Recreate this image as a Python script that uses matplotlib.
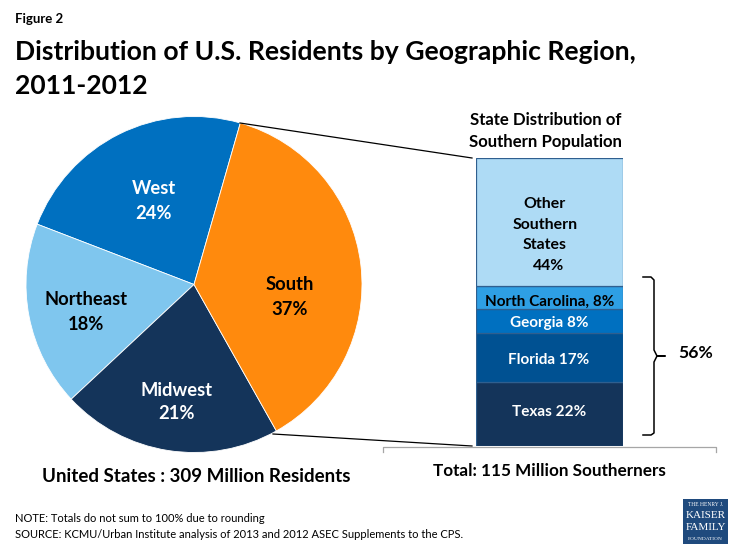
import matplotlib
matplotlib.use("Agg")
import matplotlib.pyplot as plt
from matplotlib.patches import Rectangle

plt.rcParams['font.family'] = ['Lato', 'DejaVu Sans']

# Data
regions = ["West", "Northeast", "Midwest", "South"]
region_values = [23.6, 17.8, 21.2, 37.4]
region_colors = ["#0070C0", "#7FC6EE", "#14345A", "#FF8A0D"]
region_label_colors = ["white", "black", "white", "black"]

states = ["Texas", "Florida", "Georgia", "North Carolina", "Other Southern States"]
state_values = [22, 17, 8, 8, 44]
state_colors = ["#14345A", "#005192", "#0070C0", "#2E9FE4", "#AEDBF5"]

W, H = 735, 551
fig = plt.figure(figsize=(W / 100, H / 100), dpi=100)
fig.patch.set_facecolor("white")


def box(l, t, r, b):
    return [l / W, 1 - b / H, (r - l) / W, (b - t) / H]


# Overlay in pixel coordinates (for text and annotation)
ov = fig.add_axes([0, 0, 1, 1], zorder=5)
ov.set_xlim(0, W)
ov.set_ylim(H, 0)
ov.axis("off")
ov.patch.set_alpha(0)

# Pie
axp = fig.add_axes(box(26, 116.5, 362, 452.5), zorder=2)
axp.pie(region_values, colors=region_colors, startangle=74, counterclock=True,
        radius=1, wedgeprops=dict(edgecolor="white", linewidth=0.6))
axp.set_xlim(-1, 1)
axp.set_ylim(-1, 1)

region_pos = [(154, 201), (86, 312), (177, 402), (290, 297)]
for name, val, (x, y), c in zip(regions, region_values, region_pos, region_label_colors):
    gap = 25 if name != "Midwest" else 23
    ov.text(x, y - gap / 2, name, ha="center", va="center", fontsize=13.2, fontweight="bold", color=c)
    ov.text(x, y + gap / 2, f"{val:.0f}%", ha="center", va="center", fontsize=13.2, fontweight="bold", color=c)

# Stacked bar
axb = fig.add_axes(box(476, 158, 623, 446), zorder=2)
bottom = 0
for name, val, col in zip(states, state_values, state_colors):
    axb.bar(0, val, bottom=bottom, width=1, color=col, edgecolor="#2F5F8F", linewidth=0.9)
    bottom += val
axb.set_xlim(-0.5, 0.5)
axb.set_ylim(0, sum(state_values))
axb.axis("off")

bar_labels = [(549, 412, f"{states[0]} {state_values[0]}%", "white"),
              (549, 360, f"{states[1]} {state_values[1]}%", "white"),
              (549, 323, f"{states[2]} {state_values[2]}%", "white"),
              (549.5, 302, f"{states[3]}, {state_values[3]}%", "black")]
for x, y, s, c in bar_labels:
    ov.text(x, y, s, ha="center", va="center", fontsize=11, fontweight="bold", color=c)
for y, x, s in zip((204, 225, 245, 266), (545, 545, 545, 549), ("Other", "Southern", "States", f"{state_values[4]}%")):
    ov.text(x, y, s, ha="center", va="center", fontsize=11.4, fontweight="bold", color="black")

# Connectors
ov.plot([240, 472], [123, 158], color="black", lw=0.9)
ov.plot([273, 472], [434, 446], color="black", lw=0.9)

# Curly brace
ov.plot([643, 651, 654, 654, 657, 665, 657, 654, 654, 651, 643],
        [277, 277, 280, 350, 356, 356, 356, 362, 433, 435, 435], color="black", lw=1.1)
ov.text(695.5, 353, "56%", ha="center", va="center", fontsize=12.6, fontweight="bold")

# Lower bracket
ov.plot([383, 383, 716, 716], [452, 447, 447, 452], color="#A6A6A6", lw=0.9)

# Titles
ov.text(15, 19, "Figure 2", ha="left", va="center", fontsize=9.5, fontweight="bold")
ov.text(15, 52, "Distribution of U.S. Residents by Geographic Region,", ha="left", va="center",
        fontsize=19.1, fontweight="bold")
ov.text(15, 86, "2011-2012", ha="left", va="center", fontsize=19.1, fontweight="bold")
ov.text(546, 120, "State Distribution of", ha="center", va="center", fontsize=12.05, fontweight="bold")
ov.text(546, 142, "Southern Population", ha="center", va="center", fontsize=12.05, fontweight="bold")
ov.text(196, 476, "United States : 309 Million Residents", ha="center", va="center", fontsize=13.5, fontweight="bold")
ov.text(549.5, 471, "Total: 115 Million Southerners", ha="center", va="center", fontsize=12.35, fontweight="bold")

# Notes
ov.text(15, 519, "NOTE: Totals do not sum to 100% due to rounding", ha="left", va="center", fontsize=8.0)
ov.text(15, 534, "SOURCE: KCMU/Urban Institute analysis of 2013 and 2012 ASEC Supplements to the CPS.",
        ha="left", va="center", fontsize=8.0)

# Logo
ov.add_patch(Rectangle((683, 499), 45, 45, facecolor="#1F4A7D", edgecolor="none"))
logo_font = ["Liberation Serif", "DejaVu Serif"]
for y, s, fs in ((505, "THE HENRY J.", 4.0), (516, "KAISER", 8.0), (528, "FAMILY", 8.0), (539, "FOUNDATION", 3.9)):
    ov.text(705.5, y, s, ha="center", va="center", fontsize=fs, color="white", family=logo_font)

fig.savefig("out.png", dpi=100)
